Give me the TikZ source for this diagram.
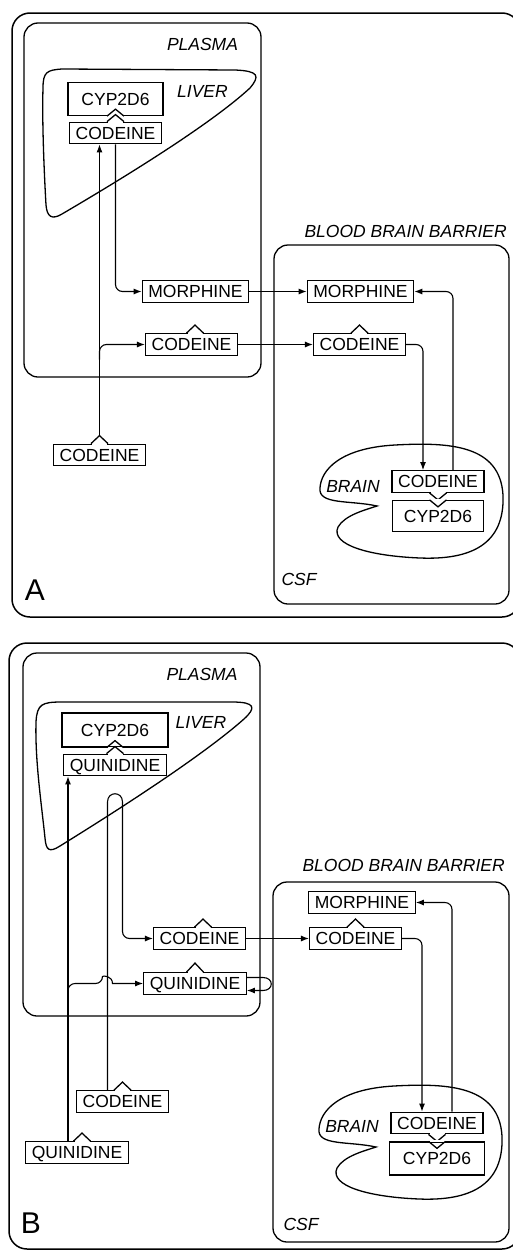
\documentclass[tikz,border=0pt]{standalone}
\usepackage{fontspec}
\setmainfont{Liberation Sans}
\usetikzlibrary{arrows.meta,calc}
\newcommand{\keynotch}[2]{%
  \begin{scope}[shift={(#1)}]
    \fill[white] (-7.5,-1.1) rectangle (7.5,1.1);
    \draw[line width=1.3pt] (-8.5,0) -- (0,#2) -- (8.5,0);
  \end{scope}}

\begin{document}
\begin{tikzpicture}[x=1pt, y=-1pt, >={Latex[length=8pt,width=6pt]},
  panel/.style={line width=1.5pt, rounded corners=18pt},
  region/.style={line width=1.3pt, rounded corners=14pt},
  organ/.style={line width=1.3pt},
  drug/.style={draw, fill=white, line width=1.3pt, inner xsep=6pt, inner ysep=4.5pt,
    text height=12.5pt, text depth=0pt, font=\fontsize{17.5}{20}\selectfont},
  enzyme/.style={drug, minimum width=95pt, minimum height=33pt},
  flow/.style={->, line width=1.1pt},
  tag/.style={font=\fontsize{17.5}{20}\selectfont\itshape, inner sep=0pt, anchor=base},
  letter/.style={font=\fontsize{30}{32}\selectfont, inner sep=0pt, anchor=base}]
\useasboundingbox (0,0) rectangle (513,1253);
\clip (0,0) rectangle (513,1253);

\draw[panel] (12,13) rectangle (520,617);
\draw[region] (24,23) rectangle (261,377);
\draw[region] (274,245) rectangle (509,604);
\draw[organ] (43,88) .. controls (43,72) and (47,70) .. (62,69) -- (235,70)
  .. controls (259,71) and (260,76) .. (250,88) .. controls (210,125) and (120,180) .. (62,214)
  .. controls (52,220) and (47,217) .. (46,205) .. controls (44,170) and (42,120) .. (43,88) -- cycle;
\draw[organ] (377,506) .. controls (350,500) and (318,505) .. (320,488)
  .. controls (321,470) and (340,448) .. (395,445) .. controls (450,442) and (500,445) .. (503,495)
  .. controls (505,545) and (470,560) .. (420,558) .. controls (370,556) and (330,545) .. (338,527)
  .. controls (345,515) and (365,510) .. (377,506) -- cycle;
\node[tag] (plasmaA) at (202.5,50) {PLASMA};
\node[tag] (liverA) at (202.5,97) {LIVER};
\node[tag, anchor=base east] (bbbA) at (507,237) {BLOOD BRAIN BARRIER};
\node[tag] (brainA) at (353,492) {BRAIN};
\node[tag] (csfA) at (299,585) {CSF};
\node[letter] (labA) at (35,600) {A};

\node[enzyme] (lyA) at (115.5,99) {CYP2D6};
\node[drug] (lcA) at (115.5,133) {CODEINE};
\node[drug] (pmA) at (195.5,291.5) {MORPHINE};
\node[drug] (pcA) at (191.5,344.5) {CODEINE};
\node[drug] (fcA) at (99.5,455) {CODEINE};
\node[drug] (cmA) at (360.5,291.5) {MORPHINE};
\node[drug] (ccA) at (359.5,344.5) {CODEINE};
\node[drug] (bcA) at (438,481.5) {CODEINE};
\node[enzyme, minimum width=91pt, minimum height=31pt] (byA) at (438,516) {CYP2D6};
\keynotch{lyA.south}{-7}
\keynotch{lcA.north}{-7}
\keynotch{[xshift=3.5pt]pcA.north}{-8}
\keynotch{fcA.north}{-8}
\keynotch{ccA.north}{-8}
\keynotch{bcA.south}{7}
\keynotch{byA.north}{7}
\coordinate (fcA-top) at ($(fcA.north)+(0,-8)$);

\draw[flow] (fcA-top) -- (fcA-top |- lcA.south);
\draw[flow, rounded corners=7pt] ($(fcA-top |- pcA.west)+(0,15)$) |- (pcA.west);
\draw[flow, rounded corners=7pt] (lcA.south) |- (pmA.west);
\draw[flow] (pmA.east) -- (cmA.west);
\draw[flow] (pcA.east) -- (ccA.west);
\draw[flow, rounded corners=7pt] (ccA.east) -| ([xshift=-15pt]bcA.north);
\draw[flow, rounded corners=7pt] ([xshift=15pt]bcA.north) |- (cmA.east);

\draw[panel] (9,643) rectangle (520,1249);
\draw[region] (23,653) rectangle (260,1016);
\draw[region] (273,882) rectangle (509,1242);
\draw[organ] (36,722) .. controls (37,704) and (42,702) .. (62,702) -- (232,702)
  .. controls (256,702) and (256,708) .. (244,719) .. controls (200,758) and (110,815) .. (60,846)
  .. controls (49,853) and (46,850) .. (45,838) .. controls (41,800) and (35,760) .. (36,722) -- cycle;
\begin{scope}[shift={(-1,641)}]
\draw[organ] (377,506) .. controls (350,500) and (318,505) .. (320,488)
  .. controls (321,470) and (340,448) .. (395,445) .. controls (450,442) and (500,445) .. (503,495)
  .. controls (505,545) and (470,560) .. (420,558) .. controls (370,556) and (330,545) .. (338,527)
  .. controls (345,515) and (365,510) .. (377,506) -- cycle;
\end{scope}
\node[tag] (plasmaB) at (202,680) {PLASMA};
\node[tag] (liverB) at (201,728) {LIVER};
\node[tag, anchor=base east] (bbbB) at (505,871) {BLOOD BRAIN BARRIER};
\node[tag] (brainB) at (352,1132) {BRAIN};
\node[tag] (csfB) at (301,1230) {CSF};
\node[letter] (labB) at (31,1233) {B};

\node[enzyme, minimum width=106pt, minimum height=34pt] (lyB) at (115,730) {CYP2D6};
\node[drug] (lqB) at (115,765) {QUINIDINE};
\node[drug] (pcB) at (199.5,938.5) {CODEINE};
\node[drug] (pqB) at (195,983.5) {QUINIDINE};
\node[drug] (fcB) at (122.5,1101.5) {CODEINE};
\node[drug] (fqB) at (77,1152.5) {QUINIDINE};
\node[drug] (cmB) at (362,902.5) {MORPHINE};
\node[drug] (ccB) at (355.5,938.5) {CODEINE};
\node[drug] (bcB) at (437,1123) {CODEINE};
\node[enzyme] (byB) at (437,1158.5) {CYP2D6};
\keynotch{lyB.south}{-7}
\keynotch{lqB.north}{-7}
\keynotch{[xshift=3.5pt]pcB.north}{-8}
\keynotch{pqB.north}{-9}
\keynotch{fcB.north}{-8}
\keynotch{[xshift=5pt]fqB.north}{-8}
\keynotch{ccB.north}{-8}
\keynotch{bcB.south}{7}
\keynotch{byB.north}{7}
\coordinate (qline) at ([xshift=-9pt]fqB.north);
\coordinate (cline) at ([xshift=-15pt]fcB.north);

\draw[flow] (qline) -- (qline |- lqB.south);
\draw[flow] ($(qline |- pqB.west)+(0,14)$) [rounded corners=7pt] |- ($(cline |- pqB.west)+(-5,0)$)
  [sharp corners] .. controls +(0,-8) and +(0,-8) .. ($(cline |- pqB.west)+(5,0)$) -- (pqB.west);
\draw[flow] (cline) -- (107.5,802) .. controls +(0,-11) and +(0,-11) .. ++(15,0)
  [rounded corners=7pt] |- (pcB.west);
\draw[flow] ([yshift=6pt]pqB.east) -- (263,977.5) .. controls (274,977.5) and (274,990.5) .. (263,990.5)
  -- ([yshift=-7pt]pqB.east);
\draw[flow] (pcB.east) -- (ccB.west);
\draw[flow, rounded corners=7pt] (ccB.east) -| ([xshift=-15pt]bcB.north);
\draw[flow, rounded corners=7pt] ([xshift=15pt]bcB.north) |- (cmB.east);
\end{tikzpicture}
\end{document}
